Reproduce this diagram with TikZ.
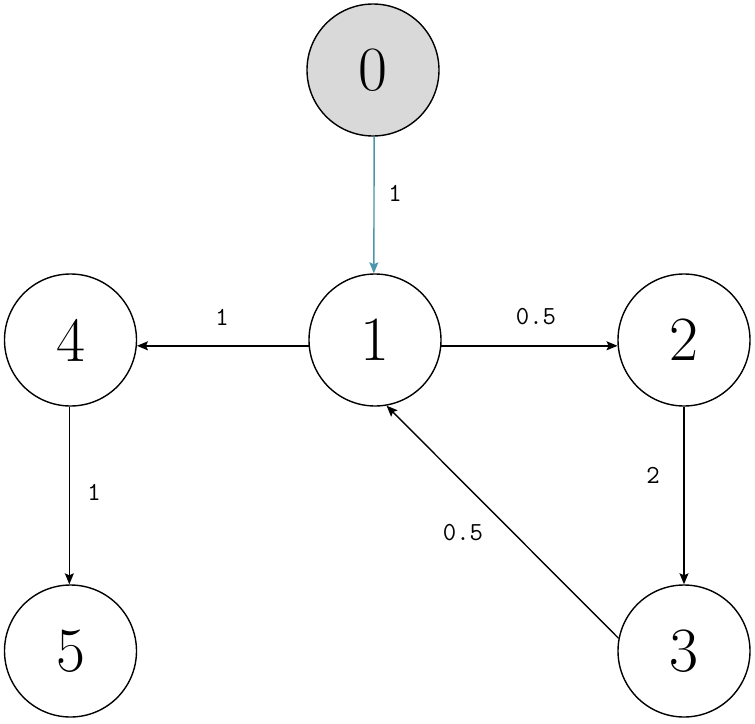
\documentclass[tikz,border=0pt]{standalone}
\usetikzlibrary{arrows.meta}
\definecolor{tealedge}{RGB}{75,150,172}
\definecolor{nodegray}{RGB}{217,217,217}
\begin{document}
\begin{tikzpicture}[x=1pt,y=-1pt,
  vert/.style={circle,draw,line width=1.4pt,minimum size=132pt,inner sep=0pt,
    font=\fontsize{63}{63}\selectfont},
  edge/.style={line width=1.4pt,-{Stealth[length=11pt,width=9pt,inset=2pt]}},
  wlabel/.style={font=\fontsize{26}{26}\selectfont\ttfamily}]
\useasboundingbox (0,0) rectangle (755,723);
\node[vert,fill=nodegray] (n0) at (373,70) {0};
\node[vert] (n1) at (375,340) {1};
\node[vert] (n2) at (684,340) {2};
\node[vert] (n4) at (70.5,340) {4};
\node[vert] (n5) at (70.5,651) {5};
\node[vert] (n3) at (684,651) {3};
\draw[edge,draw=tealedge,fill=tealedge] (n0.-89) -- (n1.91);
\draw[edge] (n1.185) -- (n4.355);
\draw[edge] (n1.355) -- (n2.185);
\draw[edge] (n2.-90) -- (n3.90);
\draw[edge] (n4.-91) -- (n5.91);
\draw[edge] (n3.169) -- (n1.280);
\node[wlabel] (l01) at (395,193) {1};
\node[wlabel] (l14) at (222,317) {1};
\node[wlabel] (l12) at (536,317) {0.5};
\node[wlabel] (l23) at (653,475) {2};
\node[wlabel] (l45) at (94,492) {1};
\node[wlabel] (l31) at (463,533) {0.5};
\end{tikzpicture}
\end{document}
